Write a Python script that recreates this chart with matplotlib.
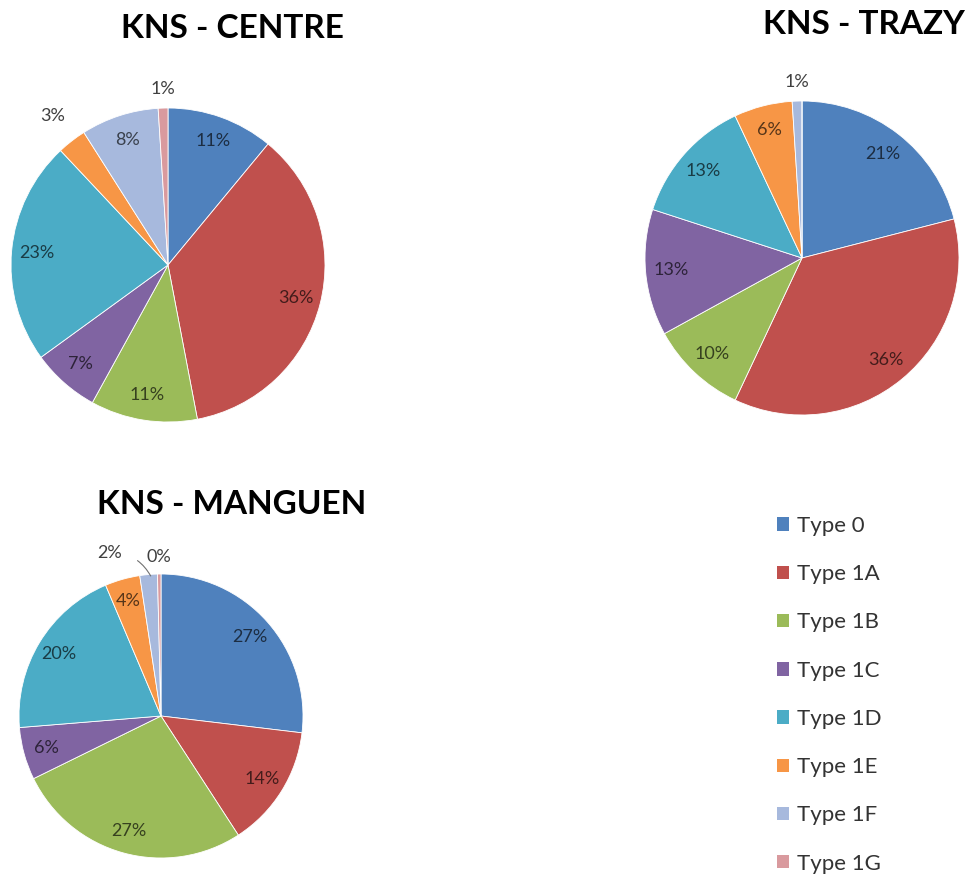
import numpy as np
import matplotlib.pyplot as plt
from matplotlib.patches import Patch
from matplotlib.colors import to_rgb

plt.rcParams['font.family'] = ['Lato', 'DejaVu Sans']

types = ['Type 0', 'Type 1A', 'Type 1B', 'Type 1C', 'Type 1D', 'Type 1E', 'Type 1F', 'Type 1G']
colors = ['#4F81BD', '#C0504D', '#9BBB59', '#8064A2', '#4BACC6', '#F79646', '#A7B9DD', '#D99A9E']

centre = [11, 36, 11, 7, 23, 3, 8, 1]
trazy = [21, 36, 10, 13, 13, 6, 1, 0]
manguen = [27, 14, 27, 6, 20, 4, 2, 0.4]

W, H = 970, 882
fig = plt.figure(figsize=(W / 100, H / 100), dpi=100)


def draw_pie(values, cx, cy, r, title, tx, ty):
    ax = fig.add_axes([(cx - r) / W, (H - cy - r) / H, 2 * r / W, 2 * r / H])
    wedges, _ = ax.pie(values, colors=colors, startangle=90, counterclock=False,
                       wedgeprops=dict(edgecolor='white', linewidth=0.6))
    ax.set_xlim(-1, 1)
    ax.set_ylim(-1, 1)
    ax.set_aspect('auto')
    for w, v in zip(wedges, values):
        if v == 0:
            continue
        ang = np.deg2rad((w.theta1 + w.theta2) / 2)
        lbl = '%d%%' % round(v)
        if v >= 4:
            d = 0.84
            c = tuple(np.array(to_rgb(w.get_facecolor()[:3])) * 0.35)
            ax.text(d * np.cos(ang), d * np.sin(ang), lbl, ha='center', va='center',
                    fontsize=13, color=c)
        elif title == 'KNS - MANGUEN' and v == 2:
            ax.annotate(lbl, xy=(0.83 * np.cos(ang), 0.99 * np.sin(ang)),
                        xytext=(-0.36, 1.15), ha='center', va='center', fontsize=13,
                        color='#404040',
                        arrowprops=dict(arrowstyle='-', color='#707070', lw=0.8,
                                        connectionstyle='arc3,rad=-0.3',
                                        shrinkA=10, shrinkB=0))
        else:
            d = 1.12 if v < 2 else 1.2
            ax.text(d * np.cos(ang), d * np.sin(ang), lbl, ha='center', va='center',
                    fontsize=13, color='#404040')
    fig.text(tx / W, 1 - ty / H, title, ha='center', va='center',
             fontsize=24, fontweight='bold', color='black')


draw_pie(centre, 168, 265, 157, 'KNS - CENTRE', 232, 28)
draw_pie(trazy, 802, 258, 157, 'KNS - TRAZY', 864, 24)
draw_pie(manguen, 161, 716, 142, 'KNS - MANGUEN', 232, 505)

handles = [Patch(facecolor=c, edgecolor='none') for c in colors]
fig.legend(handles, types, loc='upper left', bbox_to_anchor=(757 / W, 1 - 496 / H),
           frameon=False, fontsize=16, handlelength=0.55, handleheight=0.55,
           handletextpad=0.35, labelspacing=1.27, labelcolor='#333333')

fig.savefig('out.png', dpi=100)
